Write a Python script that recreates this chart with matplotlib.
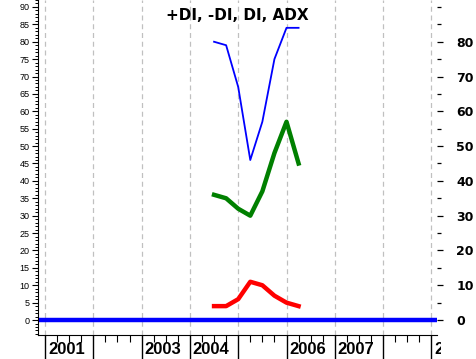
import numpy as np
import matplotlib.pyplot as plt
from matplotlib.ticker import MultipleLocator
from matplotlib.transforms import Bbox

# quarterly dates (decimal years)
dates = [2004.5, 2004.75, 2005.0, 2005.25, 2005.5, 2005.75, 2006.0, 2006.25]
adx = [80, 79, 67, 46, 57, 75, 84, 84]
plus_di = [36, 35, 32, 30, 37, 48, 57, 45]
minus_di = [4, 4, 6, 11, 10, 7, 5, 4]
zero_level = 0

years = list(range(2001, 2010))
labelled_years = [2001, 2003, 2004, 2006, 2007, 2009]

plt.rcParams['font.family'] = ['Liberation Sans', 'DejaVu Sans']

fig = plt.figure(figsize=(4.76, 3.59), dpi=100)
ax = fig.add_axes([38/476, 24/359, 399/476, 335/359])

x0 = 2001 + (38 - 45) / 48.3
x1 = 2001 + (437 - 45) / 48.3
ax.set_xlim(x0, x1)
ax.set_ylim(-4.3, 92.0)

for yr in years:
    ax.axvline(yr, color='#c0c0c0', linestyle=(0, (4, 3)), linewidth=0.9, zorder=0)

ax.axhline(zero_level, color='#0000ff', linewidth=3.2, zorder=2)
ax.plot(dates, adx, color='#0000ff', linewidth=1.3, zorder=3)
ax.plot(dates, plus_di, color='#008000', linewidth=3.2, zorder=3)
ax.plot(dates, minus_di, color='#ff0000', linewidth=3.2, zorder=3)

ax.text(0.5, 1 - 8/335, '+DI, -DI, DI, ADX', transform=ax.transAxes,
        ha='center', va='top', fontsize=11, fontweight='bold',
        family='DejaVu Sans')

# left axis
ax.set_yticks(np.arange(0, 91, 5))
ax.yaxis.set_minor_locator(MultipleLocator(1))
ax.tick_params(axis='y', which='major', direction='out', length=4, width=0.8,
               labelsize=6.5, pad=2)
ax.tick_params(axis='y', which='minor', direction='out', length=2, width=0.7)

# bottom axis
ax.set_xticks(years)
ax.set_xticklabels([])
ax.xaxis.set_minor_locator(MultipleLocator(0.25))
ax.tick_params(axis='x', which='major', direction='out', length=18, width=1.0)
ax.tick_params(axis='x', which='minor', direction='out', length=5, width=0.8)
clip = Bbox.from_extents(0, 0, 441, 359)
for yr in labelled_years:
    t = ax.text(yr + 0.06, -7/335, str(yr), transform=ax.get_xaxis_transform(),
                ha='left', va='top', fontsize=12, fontweight='bold')
    t.set_clip_box(clip)
    t.set_clip_on(True)

ax.spines['top'].set_visible(False)
ax.spines['right'].set_visible(False)

# right axis
ax2 = ax.twinx()
ax2.set_ylim(ax.get_ylim())
ax2.set_yticks(np.arange(0, 81, 10))
ax2.yaxis.set_minor_locator(MultipleLocator(5))
ax2.tick_params(axis='y', which='major', direction='out', length=4, width=0.9,
                labelsize=9, pad=10)
ax2.tick_params(axis='y', which='minor', direction='out', length=3, width=0.9)
for lbl in ax2.get_yticklabels():
    lbl.set_fontweight('bold')
    lbl.set_family('DejaVu Sans')
for s in ax2.spines.values():
    s.set_visible(False)

fig.savefig('out.png', dpi=100)
